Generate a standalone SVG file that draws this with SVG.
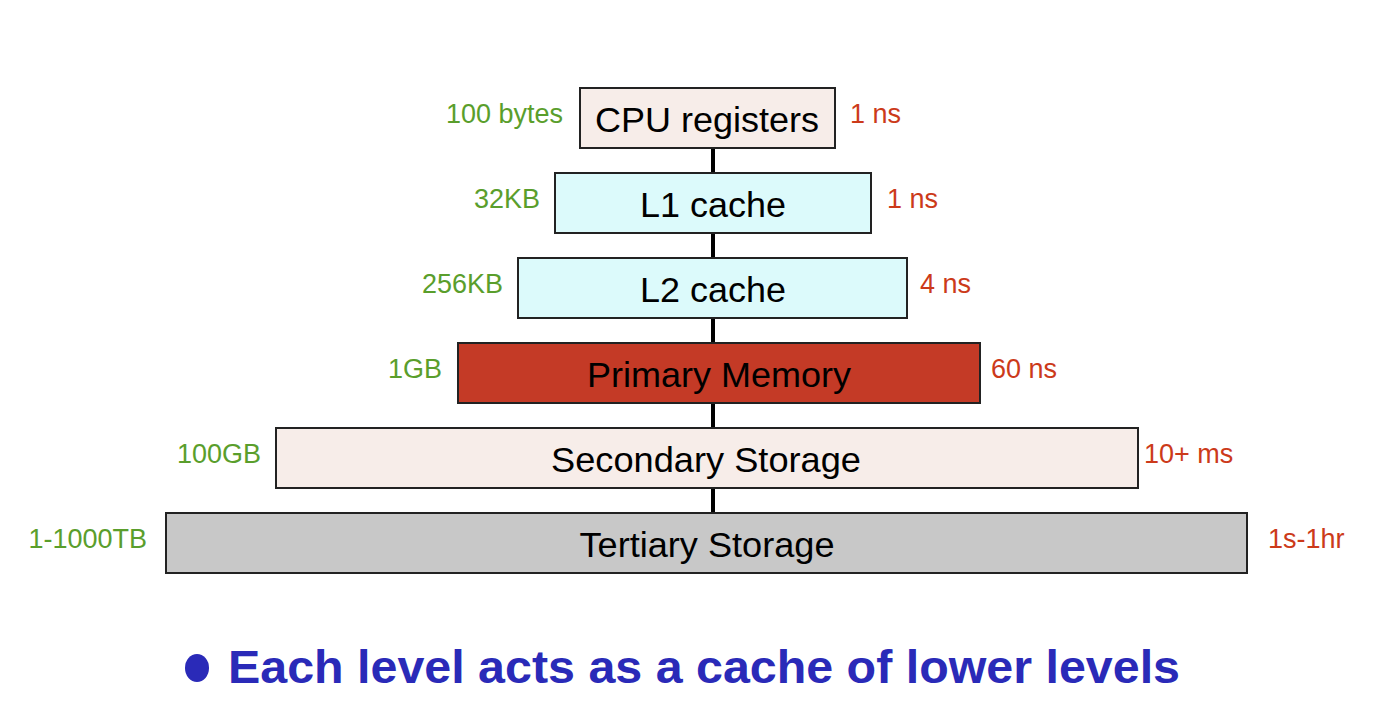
<svg xmlns="http://www.w3.org/2000/svg" width="1392" height="716" viewBox="0 0 1392 716">
<style>
.box{stroke:#222;stroke-width:2}
.lbl{font-family:"Liberation Sans",Arial,sans-serif;font-size:35px;fill:#000;text-anchor:middle}
.sz{font-family:"Liberation Sans",Arial,sans-serif;font-size:27px;fill:#5a9e2c;text-anchor:end}
.tm{font-family:"Liberation Sans",Arial,sans-serif;font-size:27px;fill:#cc3a1a;text-anchor:start}
.con{stroke:#000;stroke-width:4}
</style>
<rect width="1392" height="716" fill="#fff"/>
<g id="connectors">
<line class="con" x1="713" y1="148" x2="713" y2="173"/>
<line class="con" x1="713" y1="233" x2="713" y2="258"/>
<line class="con" x1="713" y1="318" x2="713" y2="343"/>
<line class="con" x1="713" y1="403" x2="713" y2="428"/>
<line class="con" x1="713" y1="488" x2="713" y2="513"/>
</g>
<g id="cpu">
<rect class="box" x="580" y="88" width="255" height="60" fill="#f7ede9"/>
<text class="lbl" x="707" y="132" textLength="224" lengthAdjust="spacingAndGlyphs">CPU registers</text>
<text class="sz" x="563" y="123">100 bytes</text>
<text class="tm" x="850" y="123">1 ns</text>
</g>
<g id="l1">
<rect class="box" x="555" y="173" width="316" height="60" fill="#dcfafb"/>
<text class="lbl" x="713" y="217" textLength="146" lengthAdjust="spacingAndGlyphs">L1 cache</text>
<text class="sz" x="540" y="208">32KB</text>
<text class="tm" x="887" y="208">1 ns</text>
</g>
<g id="l2">
<rect class="box" x="518" y="258" width="389" height="60" fill="#dcfafb"/>
<text class="lbl" x="713" y="302" textLength="146" lengthAdjust="spacingAndGlyphs">L2 cache</text>
<text class="sz" x="503" y="293">256KB</text>
<text class="tm" x="920" y="293">4 ns</text>
</g>
<g id="primary">
<rect class="box" x="458" y="343" width="522" height="60" fill="#c43a26"/>
<text class="lbl" x="719" y="387" textLength="264" lengthAdjust="spacingAndGlyphs">Primary Memory</text>
<text class="sz" x="442" y="378">1GB</text>
<text class="tm" x="991" y="378">60 ns</text>
</g>
<g id="secondary">
<rect class="box" x="276" y="428" width="862" height="60" fill="#f7ede9"/>
<text class="lbl" x="706" y="472" textLength="310" lengthAdjust="spacingAndGlyphs">Secondary Storage</text>
<text class="sz" x="261" y="463">100GB</text>
<text class="tm" x="1144" y="463">10+ ms</text>
</g>
<g id="tertiary">
<rect class="box" x="166" y="513" width="1081" height="60" fill="#c8c8c8"/>
<text class="lbl" x="707" y="557" textLength="255" lengthAdjust="spacingAndGlyphs">Tertiary Storage</text>
<text class="sz" x="147" y="548">1-1000TB</text>
<text class="tm" x="1268" y="548">1s-1hr</text>
</g>
<g id="note">
<ellipse cx="197" cy="668" rx="12" ry="14" fill="#2a2ab8"/>
<text x="228" y="683" font-family="Liberation Sans,Arial,sans-serif" font-weight="bold" font-size="46" fill="#2a2ab8" textLength="952" lengthAdjust="spacingAndGlyphs">Each level acts as a cache of lower levels</text>
</g>
</svg>
